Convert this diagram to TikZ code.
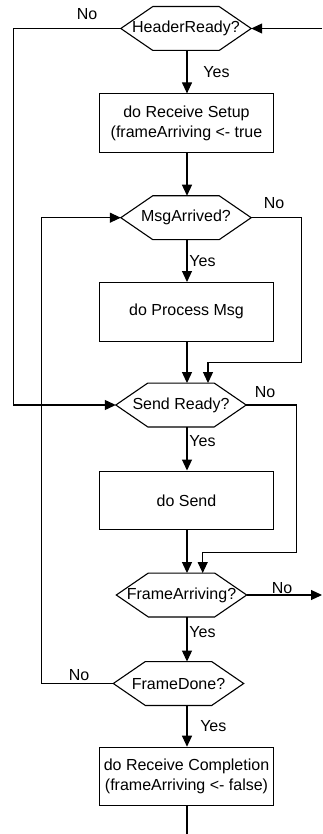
\documentclass[tikz,border=0pt]{standalone}
\usepackage{fontspec}
\setmainfont{Liberation Sans}
\usetikzlibrary{arrows.meta}
\begin{document}
\begin{tikzpicture}[x=1pt,y=-1pt,
  every node/.style={font=\fontsize{16pt}{19.5pt}\selectfont},
  ln/.style={line width=1.1pt},
  arr/.style={ln,-{Triangle[length=11pt,width=10pt]}},
  box/.style={draw,ln,minimum width=174pt,minimum height=58.5pt,inner sep=0pt,align=center},
  hexa/.style={minimum width=130pt,minimum height=43.5pt,inner sep=0pt},
  lbl/.style={inner sep=0pt}]
\useasboundingbox (0,0) rectangle (322,834);
% nodes
\node[hexa] (hr) at (186,28.5) {HeaderReady?};
\node[box]  (rs) at (186.5,123.2) {do Receive Setup\\(frameArriving <- true};
\node[hexa] (ma) at (186,217.7) {MsgArrived?};
\node[box]  (pm) at (186.5,311.8) {do Process Msg};
\node[hexa] (sr) at (181,405) {Send Ready?};
\node[box]  (ds) at (186.5,500.3) {do Send};
\node[hexa] (fa) at (181.5,595) {FrameArriving?};
\node[hexa] (fd) at (178.5,683.5) {FrameDone?};
\node[box]  (rc) at (186.5,776.5) {do Receive Completion\\(frameArriving <- false)};
% hexagon outlines
\foreach \n in {hr,ma,sr,fa,fd}
  \draw[ln,line join=miter] (\n.west) -- ([xshift=32pt]\n.north west) -- ([xshift=-32pt]\n.north east)
    -- (\n.east) -- ([xshift=-32pt]\n.south east) -- ([xshift=32pt]\n.south west) -- cycle;
% helper coordinates
\coordinate (fx) at (187,0);
\coordinate (L1) at (13.3,0);
\coordinate (L2) at (41.7,0);
\coordinate (R1) at (301.7,362.7);
\coordinate (J1) at (208,0);
\coordinate (R2) at (296.7,552.7);
\coordinate (J2) at (202.7,0);
\coordinate (inA) at (322,28.5);
\coordinate (outF) at (322,595);
\coordinate (endB) at (187,834);
% main flow
\draw[arr] (hr.south -| fx) -- (rs.north -| fx);
\draw[arr] (rs.south -| fx) -- (ma.north -| fx);
\draw[arr] (ma.south -| fx) -- (pm.north -| fx);
\draw[arr] (pm.south -| fx) -- (sr.north -| fx);
\draw[arr] (sr.south -| fx) -- (ds.north -| fx);
\draw[arr] (ds.south -| fx) -- (fa.north -| fx);
\draw[arr] (fa.south -| fx) -- (fd.north -| fx);
\draw[arr] (fd.south -| fx) -- (rc.north -| fx);
\draw[ln]  (rc.south -| fx) -- (endB);
% branches
\draw[arr] (inA) -- (hr.east);
\draw[arr] (hr.west) -- (hr.west -| L1) |- (sr.west);
\draw[arr] (ma.east) -| (R1) -| (sr.north -| J1);
\draw[arr] (sr.east) -| (R2) -| (fa.north -| J2);
\draw[arr] (fa.east) -- (outF);
\draw[arr] (fd.west) -- (fd.west -| L2) |- (ma.west);
% labels
\node[lbl] (y1) at (216.5,72) {Yes};
\node[lbl] (y2) at (202.5,261) {Yes};
\node[lbl] (y3) at (202.5,441) {Yes};
\node[lbl] (y4) at (202.5,632) {Yes};
\node[lbl] (y5) at (213.3,726) {Yes};
\node[lbl] (n1) at (87,14) {No};
\node[lbl] (n2) at (274,203) {No};
\node[lbl] (n3) at (265,392) {No};
\node[lbl] (n4) at (282,588) {No};
\node[lbl] (n5) at (79,675) {No};
\end{tikzpicture}
\end{document}
